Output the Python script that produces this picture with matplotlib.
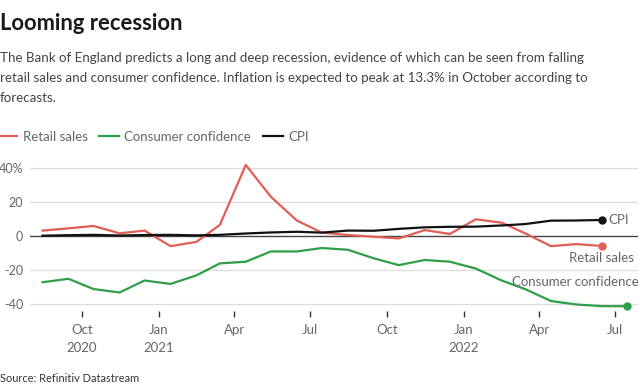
import matplotlib
matplotlib.use("Agg")
import matplotlib.pyplot as plt
import pandas as pd
from matplotlib.lines import Line2D

plt.rcParams['font.family'] = ['Lato', 'DejaVu Sans']

retail_months = pd.date_range("2020-08-01", periods=23, freq="MS") + pd.Timedelta(days=14)
retail_sales = [3.2, 4.5, 5.9, 1.6, 3.2, -5.9, -3.4, 6.5, 41.6, 23.0, 9.1, 2.0,
                0.6, -0.4, -1.4, 3.5, 1.2, 9.8, 7.8, 1.6, -5.9, -4.7, -5.8]
cpi = [0.2, 0.5, 0.7, 0.3, 0.6, 0.7, 0.4, 0.7, 1.5, 2.1, 2.5, 2.0,
       3.2, 3.1, 4.2, 5.1, 5.4, 5.5, 6.2, 7.0, 9.0, 9.1, 9.4]
conf_months = pd.date_range("2020-08-01", periods=24, freq="MS") + pd.Timedelta(days=14)
consumer_conf = [-27, -25, -31, -33, -26, -28, -23, -16, -15, -9, -9, -7,
                 -8, -13, -17, -14, -15, -19, -26, -31, -38, -40, -41, -41]

tick_dates = pd.to_datetime(["2020-10-01", "2021-01-01", "2021-04-01", "2021-07-01",
                             "2021-10-01", "2022-01-01", "2022-04-01", "2022-07-01"])
tick_labels = ["Oct\n2020", "Jan\n2021", "Apr", "Jul", "Oct", "Jan\n2022", "Apr", "Jul"]
y_ticks = [-40, -20, 0, 20, 40]
y_labels = ["-40", "-20", "0", "20", "40%"]

RED = "#e25d55"
GREEN = "#2e9e48"
BLACK = "#111111"
GREY = "#666666"

fig = plt.figure(figsize=(6.4, 3.88), dpi=100)
ax = fig.add_axes([30/640, 1 - 311.3/388, 608/640, 150.5/388])

ax.plot(retail_months, retail_sales, color=RED, lw=1.6, zorder=3)
ax.plot(conf_months, consumer_conf, color=GREEN, lw=1.6, zorder=3)
ax.plot(retail_months, cpi, color=BLACK, lw=1.6, zorder=4)
ax.plot(retail_months[-1], cpi[-1], 'o', color=BLACK, ms=5, zorder=5)
ax.plot(retail_months[-1], retail_sales[-1], 'o', color=RED, ms=5, zorder=5)
ax.plot(conf_months[-1], consumer_conf[-1], 'o', color=GREEN, ms=5, zorder=5)

ax.set_xlim(pd.Timestamp("2020-07-31"), pd.Timestamp("2022-07-28"))
ax.set_ylim(-44, 44)
for y in y_ticks:
    ax.axhline(y, color="#dddddd" if y != 0 else "#444444", lw=0.9 if y != 0 else 1.0, zorder=1)

ax.set_yticks(y_ticks)
ax.set_yticklabels(y_labels)
ax.set_xticks(tick_dates)
ax.set_xticklabels(tick_labels)
ax.tick_params(axis='y', length=0, pad=5, labelsize=9.0, labelcolor=GREY)
ax.tick_params(axis='x', length=4, width=1, color="#333333", pad=5, labelsize=9.5, labelcolor=GREY)
for lab in ax.get_xticklabels():
    lab.set_linespacing(1.6)
for s in ax.spines.values():
    s.set_visible(False)

ax.annotate("CPI", (retail_months[-1], cpi[-1]), xytext=(4.3, 0), textcoords='offset points',
            ha='left', va='center', fontsize=9.5, color=GREY)
ax.annotate("Retail sales", (retail_months[-1], retail_sales[-1]), xytext=(23, -4), textcoords='offset points',
            ha='right', va='top', fontsize=9.5, color=GREY)
ax.annotate("Consumer confidence", (conf_months[-1], consumer_conf[-1]), xytext=(8.6, 17.5), textcoords='offset points',
            ha='right', va='center', fontsize=9.5, color=GREY)

handles = [Line2D([], [], color=RED, lw=1.6), Line2D([], [], color=GREEN, lw=1.6), Line2D([], [], color=BLACK, lw=1.6)]
leg = fig.legend(handles, ["Retail sales", "Consumer confidence", "CPI"], loc='center left',
                 bbox_to_anchor=(-0.004, 1 - 137/388), ncol=3, frameon=False, fontsize=9.5,
                 handlelength=1.5, handletextpad=0.4, columnspacing=0.9, borderaxespad=0, borderpad=0)
for t in leg.get_texts():
    t.set_color(GREY)

fig.text(0.0, 1 - 24/388, "Looming recession", fontsize=15.8, fontweight='bold', color="#1a1a1a", va='center', ha='left')
sub = ("The Bank of England predicts a long and deep recession, evidence of which can be seen from falling\n"
       "retail sales and consumer confidence. Inflation is expected to peak at 13.3% in October according to\n"
       "forecasts.")
fig.text(0.0, 1 - 52/388, sub, fontsize=9.6, color="#444444", va='top', ha='left', linespacing=1.8)
fig.text(0.0, 1 - 378/388, "Source: Refinitiv Datastream", fontsize=7.9, color="#333333", va='center', ha='left')

fig.savefig("out.png", dpi=100)
